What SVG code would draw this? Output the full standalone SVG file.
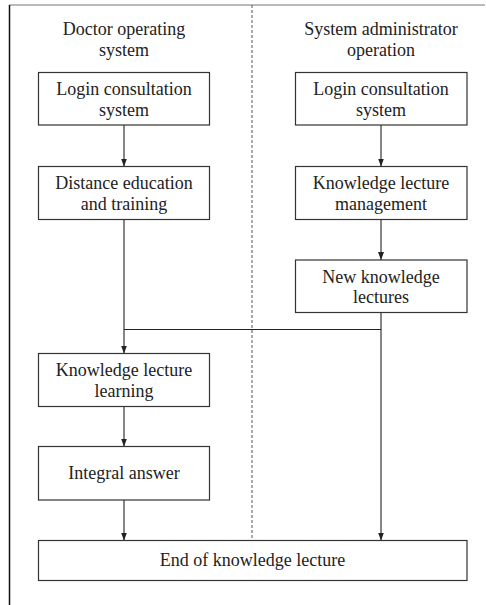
<svg xmlns="http://www.w3.org/2000/svg" width="486" height="605" viewBox="0 0 486 605">
<defs>
<marker id="arr" viewBox="0 0 8 8" refX="8" refY="4" markerWidth="8" markerHeight="8" markerUnits="userSpaceOnUse" orient="auto">
<path d="M0,1 L8,4 L0,7 Z" fill="#222"/>
</marker>
<style>
.box{fill:#fff;stroke:#333;stroke-width:1.2}
.t{font-family:"Liberation Serif","Times New Roman",serif;font-size:18px;fill:#222;text-anchor:middle}
.c{fill:none;stroke:#222;stroke-width:1.1}
</style>
</defs>
<rect width="486" height="605" fill="#fff"/>
<g id="frame">
<line x1="9" y1="5" x2="485" y2="5" stroke="#777" stroke-width="1.2"/>
<line x1="9.5" y1="5" x2="9.5" y2="605" stroke="#111" stroke-width="1.5"/>
<line x1="252" y1="5" x2="252" y2="540" stroke="#555" stroke-width="1" stroke-dasharray="3,2"/>
</g>
<g id="lane-doctor"><text class="t" x="124" y="35">Doctor operating</text><text class="t" x="124" y="56">system</text></g>
<g id="lane-admin"><text class="t" x="381" y="35">System administrator</text><text class="t" x="381" y="56">operation</text></g>
<g id="connectors">
<line class="c" x1="124" y1="125" x2="124" y2="166.5" marker-end="url(#arr)"/>
<line class="c" x1="381" y1="125" x2="381" y2="166.5" marker-end="url(#arr)"/>
<line class="c" x1="381" y1="219.5" x2="381" y2="260" marker-end="url(#arr)"/>
<line class="c" x1="124" y1="219.5" x2="124" y2="353.5" marker-end="url(#arr)"/>
<line class="c" x1="381" y1="312.5" x2="381" y2="540.5" marker-end="url(#arr)"/>
<line class="c" x1="124" y1="329.5" x2="381" y2="329.5"/>
<line class="c" x1="124" y1="406.5" x2="124" y2="446.5" marker-end="url(#arr)"/>
<line class="c" x1="124" y1="500" x2="124" y2="540.5" marker-end="url(#arr)"/>
</g>
<g id="d-login"><rect class="box" x="38.5" y="72.5" width="171" height="52.5"/><text class="t" x="124" y="95">Login consultation</text><text class="t" x="124" y="116">system</text></g>
<g id="d-distance"><rect class="box" x="38.5" y="166.5" width="171" height="53"/><text class="t" x="124" y="189">Distance education</text><text class="t" x="124" y="210">and training</text></g>
<g id="d-learning"><rect class="box" x="38.5" y="353.5" width="171" height="53"/><text class="t" x="124" y="376">Knowledge lecture</text><text class="t" x="124" y="397">learning</text></g>
<g id="d-integral"><rect class="box" x="38.5" y="446.5" width="171" height="53.5"/><text class="t" x="124" y="479">Integral answer</text></g>
<g id="a-login"><rect class="box" x="295.5" y="72.5" width="171.5" height="52.5"/><text class="t" x="381" y="95">Login consultation</text><text class="t" x="381" y="116">system</text></g>
<g id="a-manage"><rect class="box" x="295.5" y="166.5" width="171.5" height="53"/><text class="t" x="381" y="189">Knowledge lecture</text><text class="t" x="381" y="210">management</text></g>
<g id="a-new"><rect class="box" x="295.5" y="260" width="171.5" height="52.5"/><text class="t" x="381" y="283">New knowledge</text><text class="t" x="381" y="303">lectures</text></g>
<g id="end"><rect class="box" x="38.5" y="540.5" width="428.5" height="40"/><text class="t" x="252.5" y="566">End of knowledge lecture</text></g>
</svg>
